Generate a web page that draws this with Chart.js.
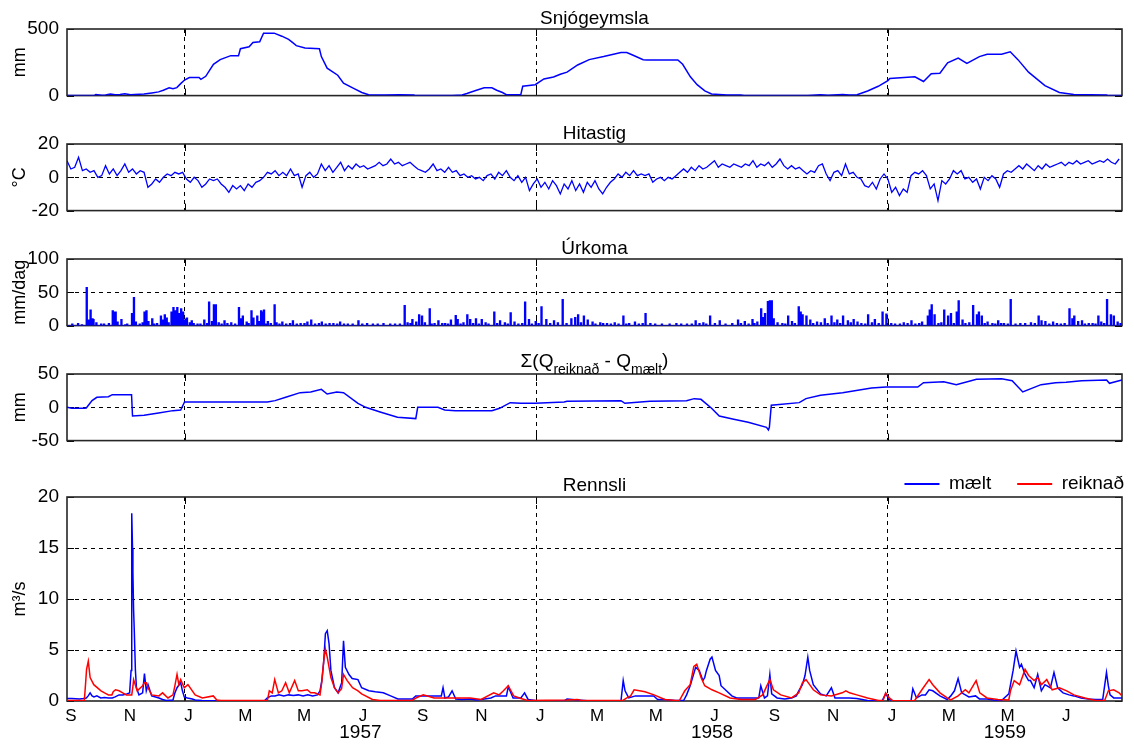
<!DOCTYPE html>
<html><head><meta charset="utf-8">
<script src="https://cdn.jsdelivr.net/npm/chart.js@4/dist/chart.umd.min.js"></script>
<style>
html,body{margin:0;padding:0;background:#fff;}
#wrap{position:relative;width:1134px;height:746px;overflow:hidden;background:#fff;}
canvas{position:absolute;left:0;}
</style></head><body>
<div id="wrap">
<canvas id="c1" width="1134" height="115" style="top:0px"></canvas>
<canvas id="c2" width="1134" height="115" style="top:115px"></canvas>
<canvas id="c3" width="1134" height="115" style="top:230px"></canvas>
<canvas id="c4" width="1134" height="115" style="top:345px"></canvas>
<canvas id="c5" width="1134" height="286" style="top:460px"></canvas>
</div>
<script>
// ---------- DATA (day = days since 1 Sep 1956) ----------
const monthLetters = ['J','F','M','A','M','J','J','A','S','O','N','D'];
const yearLabels = ['1957','1958','1959'];

// Snjógeymsla (mm): [day, value]
const snow = [[0,0],[28,0],[30,8],[36,3],[40,5],[45,12],[50,6],[55,8],[60,14],[66,6],[70,8],[75,10],[80,12],[88,20],[95,28],[100,40],[106,58],[110,52],[114,60],[118,90],[122,117],[127,136],[137,136],[139,122],[144,145],[152,235],[159,270],[170,300],[178,300],[180,352],[189,366],[193,399],[200,404],[204,469],[215,469],[223,446],[230,422],[234,399],[238,375],[247,357],[262,352],[264,293],[270,206],[281,153],[287,94],[298,52],[306,23],[313,7],[330,5],[345,6],[360,4],[362,0],[400,0],[410,5],[415,16],[425,40],[433,58],[441,58],[446,40],[452,23],[456,7],[471,7],[473,70],[486,82],[495,125],[505,140],[512,160],[519,176],[530,230],[542,270],[557,293],[575,324],[581,324],[587,305],[598,270],[602,268],[634,268],[639,235],[647,141],[654,82],[662,35],[669,12],[685,5],[699,4],[703,0],[769,0],[782,6],[790,3],[805,8],[812,4],[820,6],[831,35],[842,70],[852,113],[854,129],[880,141],[889,106],[897,164],[906,168],[914,246],[925,282],[934,242],[947,293],[955,310],[970,310],[979,329],[987,270],[998,176],[1015,75],[1030,23],[1045,8],[1079,4],[1081,0],[1095,0]];

// Hitastig (°C): one value every TEMP_STEP days from day 0
const TEMP_STEP = 4;
const temp = [
 10,5,6,12,4,5,3,4,0,1,
 7,2,5,1,4,8,3,5,2,4,
 3,-6,-4,-1,-3,0,2,1,3,2,
 3,-1,-3,0,-2,-6,-4,-1,-2,-1,
 -4,-6,-9,-5,-7,-5,-8,-4,-6,-3,
 -2,0,3,2,4,1,3,1,5,1,
 2,-6,1,3,0,2,8,4,7,3,
 6,9,4,7,5,8,6,7,5,6,
 7,9,7,8,11,8,9,7,8,9,
 7,5,4,3,5,8,4,5,3,6,
 3,4,1,2,0,1,-1,0,-2,1,
 2,-1,3,1,4,0,-2,1,-3,0,
 -8,-4,-1,-6,-3,-7,-2,-5,-10,-4,
 -7,-2,-8,-4,-9,-3,-6,-2,-7,-10,
 -6,-3,-1,2,0,3,1,4,1,2,
 1,2,-3,-1,0,-2,0,-1,1,3,
 5,3,6,4,7,5,6,8,10,6,
 8,7,6,8,7,6,8,7,10,6,
 8,7,9,6,8,11,7,5,7,5,
 6,4,2,4,3,7,8,2,-2,3,
 4,1,8,2,3,0,-1,-5,-6,-3,
 -7,-1,2,-1,-9,-6,-11,-7,-9,1,
 3,2,4,1,-7,-4,-14,-2,-4,-1,
 4,2,4,-1,0,-3,-1,-7,0,-2,
 1,-1,-6,2,4,3,5,7,5,8,
 6,4,7,5,8,6,7,8,9,7,
 9,8,10,8,9,10,8,9,10,9,
 11,9,8,11];

// Úrkoma (mm/dag): rain days [day, value]
const rainMajor = [[5,2],[11,3],[20,57],[22,8],[24,23],[26,10],[27,9],[30,4],[35,2],[43,3],[47,22],[48,20],[50,20],[52,5],[56,9],[62,2],[67,18],[69,42],[71,5],[78,4],[80,20],[82,22],[84,6],[88,10],[93,3],[97,14],[99,8],[101,16],[103,11],[105,4],[108,20],[110,27],[112,22],[114,27],[116,18],[118,25],[120,20],[122,8],[124,11],[127,4],[129,7],[135,2],[142,8],[147,35],[150,6],[152,31],[154,31],[157,4],[163,7],[170,4],[178,27],[180,10],[182,14],[186,5],[191,22],[193,11],[197,14],[199,6],[201,22],[202,20],[204,23],[208,6],[215,31],[217,4],[223,5],[231,3],[234,7],[242,3],[249,5],[253,8],[261,3],[264,5],[276,3],[283,5],[291,2],[302,7],[306,2],[317,2],[328,3],[340,2],[350,30],[353,4],[358,9],[362,5],[365,16],[368,14],[371,4],[376,25],[381,3],[385,7],[392,3],[398,8],[403,15],[405,9],[411,4],[415,16],[418,9],[424,10],[430,9],[434,4],[443,20],[449,7],[454,4],[460,19],[464,5],[475,35],[479,9],[486,6],[492,28],[497,9],[505,7],[514,39],[523,10],[527,12],[530,16],[536,14],[540,8],[545,5],[553,4],[560,3],[568,4],[577,14],[583,3],[589,5],[600,18],[605,3],[617,2],[632,3],[643,2],[652,7],[660,4],[667,14],[677,7],[696,8],[703,6],[711,9],[716,5],[720,25],[722,12],[724,18],[727,36],[729,37],[731,37],[733,10],[737,4],[748,14],[752,6],[759,28],[761,20],[763,16],[767,14],[771,8],[778,5],[786,10],[793,14],[799,8],[805,14],[810,7],[816,9],[820,5],[831,16],[838,9],[846,20],[850,17],[855,3],[868,4],[876,7],[887,5],[893,14],[895,23],[897,31],[900,16],[910,23],[914,14],[917,18],[923,20],[925,37],[929,8],[940,30],[944,16],[946,20],[949,14],[955,5],[966,7],[972,3],[979,39],[989,3],[1000,4],[1008,14],[1011,7],[1015,6],[1023,5],[1040,25],[1043,10],[1045,14],[1049,6],[1053,7],[1060,3],[1070,14],[1073,5],[1079,39],[1083,16],[1086,14],[1090,5]];
const rainMinor = [[15,1],[38,2],[60,1],[75,2],[90,2],[131,3],[138,2],[145,3],[160,2],[166,3],[174,2],[188,3],[206,2],[211,3],[220,2],[227,2],[238,2],[246,3],[257,2],[268,2],[272,3],[280,2],[287,2],[296,2],[311,3],[322,2],[335,2],[345,2],[356,3],[378,2],[389,3],[395,2],[408,2],[421,3],[427,2],[437,2],[446,3],[457,2],[468,2],[472,3],[482,2],[489,3],[501,3],[509,4],[518,3],[533,4],[548,2],[556,3],[564,2],[572,2],[580,2],[593,2],[597,3],[610,2],[625,2],[637,2],[648,2],[656,3],[663,2],[672,3],[683,2],[690,3],[699,3],[707,2],[713,3],[742,3],[745,2],[755,3],[774,3],[782,4],[789,3],[796,4],[802,3],[813,4],[824,3],[828,2],[835,4],[842,3],[859,2],[864,2],[872,3],[880,2],[884,3],[904,3],[907,4],[920,3],[932,3],[936,4],[952,3],[960,3],[963,2],[969,3],[976,2],[984,2],[994,3],[1004,3],[1019,2],[1027,3],[1031,2],[1035,3],[1056,2],[1064,3],[1067,2],[1076,3],[1093,3]];

// Σ(Q_reiknað − Q_mælt) (mm): [day, value]
const cumDiff = [[0,0],[5,-1.5],[18,-1.5],[20,-1],[26,10],[31,15],[43,16],[47,19],[67,19],[68,-13],[80,-12],[95,-8.5],[110,-5],[118,-4],[122,8],[208,8],[216,10],[227,15],[242,22],[253,23],[264,27],[270,20],[280,23],[287,22],[302,6],[310,0],[325,-7],[343,-15],[362,-17],[364,0],[385,0],[392,-4],[403,-5],[441,-5],[449,-1.5],[460,7],[471,6],[486,6],[516,8],[519,9],[575,10],[579,6],[605,9],[643,10],[651,13],[658,12],[669,-1.5],[677,-13],[692,-18],[707,-22.5],[726,-30],[728,-34],[729,-30],[731,3],[760,7],[767,13],[782,18],[805,22],[835,29],[850,30.5],[883,30.5],[889,37],[910,38.5],[923,34],[944,42],[970,43],[981,40],[992,23],[1011,34],[1026,37],[1037,37.5],[1053,40],[1079,41],[1082,36],[1095,41]];

// Rennsli (m3/s) mælt: [day, value]
const qMeas = [[0,0.25],[5,0.25],[13,0.2],[17,0.25],[20,0.3],[22,0.5],[24,0.8],[26,0.5],[28,0.4],[31,0.5],[35,0.3],[39,0.35],[43,0.3],[47,0.3],[50,0.4],[54,0.6],[58,0.6],[62,0.7],[65,0.8],[66.5,3],[67.2,18.4],[68,15],[68.4,12.6],[69.1,9],[69.9,6.7],[71,3],[72.1,1.3],[74.7,0.6],[78.5,0.8],[80.4,2.7],[82.3,1.0],[84.1,1.6],[87.9,0.5],[92,0.4],[95.4,0.3],[99.2,0.15],[103,0.05],[110,0.1],[112,0.8],[114.2,1.3],[118,1.8],[119.8,1.0],[121.7,0.4],[125,0.3],[130,0.2],[133,0.1],[140,0.05],[205,0.02],[208,0.3],[212,0.5],[216,0.5],[220,0.6],[225,0.5],[230,0.6],[235,0.55],[240,0.6],[245,0.5],[250,0.6],[255,0.5],[260,0.6],[262.6,1.0],[264.5,2.0],[266.4,3.8],[268.2,6.6],[270.1,6.9],[272,5.6],[273.9,3.0],[277.6,1.3],[281.4,0.8],[285.1,1.8],[287,5.9],[288.9,3.3],[292.7,2.6],[296,2.2],[302,2.1],[305.8,1.3],[313.3,1.0],[320,0.9],[328.3,0.8],[335.9,0.5],[343.4,0.2],[350,0.2],[358.4,0.2],[362,0.5],[370,0.5],[380,0.5],[388.5,0.5],[390.3,1.3],[392.2,0.3],[396,0.4],[399.7,1.0],[403.5,0.2],[410,0.15],[418.5,0.2],[425,0.1],[430,0.15],[440,0.3],[444.8,0.5],[450,0.5],[456.1,0.5],[458,1.4],[459.8,1.0],[463,0.3],[471.1,0.3],[474.9,0.8],[478.6,0.15],[486,0.05],[500,0.02],[516,0.02],[519,0.2],[530,0.1],[540,0.02],[575,0.02],[577.3,2.0],[579.2,1.0],[583,0.3],[590,0.5],[595,0.5],[600,0.5],[605,0.5],[609,0.5],[613,0.15],[620,0.15],[631,0.05],[640,0.05],[643.1,0.6],[646.8,1.5],[652.5,3.3],[656.2,3.0],[660,2.0],[661.9,2.3],[663.7,3.0],[667.5,4.1],[669.4,4.3],[673.1,3.0],[676.9,2.5],[678.8,1.5],[684.4,1.0],[690,0.5],[695,0.3],[700,0.3],[710,0.3],[718,0.3],[720.1,1.5],[723.9,0.3],[727,0.5],[729.5,2.6],[731.4,0.7],[737,0.3],[745,0.2],[752,0.3],[757,0.5],[759.5,1.0],[763.3,1.6],[766,2.5],[768.9,4.3],[770.8,3.0],[774.6,1.6],[782.1,0.7],[788,0.5],[793.4,1.3],[797.1,0.3],[804.6,0.3],[812,0.3],[819.7,0.25],[830.9,0.05],[838,0.02],[846,0.02],[849.7,0.7],[853.5,0.15],[857,0.02],[876,0.02],[877.9,1.2],[881.7,0.3],[887.3,0.6],[891,0.6],[894.8,1.1],[898.6,1.0],[906,0.5],[913.6,0.15],[917.3,0.5],[921.1,1.0],[924.9,2.2],[928.6,0.8],[932.4,0.6],[936,0.4],[943,0.5],[947,0.2],[954.9,0.2],[962,0.1],[970,0.05],[977.5,0.7],[982,3.0],[985,4.9],[988.7,3.3],[990.6,3.6],[994.4,2.6],[998,2.0],[1000,2.0],[1003.8,1.3],[1007.5,2.6],[1011.3,1.0],[1015,1.6],[1020.7,1.3],[1024.4,2.8],[1028.2,1.3],[1033.8,0.8],[1040,0.6],[1045.1,0.5],[1052.6,0.3],[1060,0.2],[1067.6,0.15],[1075,0.15],[1078.9,2.8],[1080.8,1.5],[1082.6,0.6],[1086.4,0.3],[1092,0.3],[1095,0.3]];

// Rennsli (m3/s) reiknað: [day, value]
const qCalc = [[0,0.05],[18,0.05],[19.5,2],[20.3,3.1],[22.1,3.9],[24,2.3],[27.8,1.6],[35.3,1.0],[39,0.8],[43,0.6],[46.6,0.6],[48,0.9],[50.3,1.1],[54.1,1.0],[57.8,0.8],[61.6,0.6],[65.4,0.6],[67.2,0.6],[68.5,1.5],[69.1,2.1],[72.9,1.0],[78.5,1.5],[80.4,1.8],[82.3,1.8],[84.1,1.3],[87.9,0.6],[95.4,0.5],[99.2,0.8],[104.8,0.3],[110,0.6],[112,1.5],[114.2,2.6],[116.1,1.6],[118,2.1],[121.7,1.3],[125.5,1.6],[133,0.6],[140.5,0.3],[151.8,0.5],[155.5,0.1],[160,0.05],[208,0.05],[210,1.0],[213,0.8],[215.6,2.1],[219.4,0.8],[223,1.0],[226.9,1.8],[230.7,0.8],[236.3,2.0],[240.1,1.0],[243.8,1.0],[249.4,1.1],[253,0.8],[257,0.8],[262.6,0.6],[264.5,1.9],[266.4,3.9],[268.2,5.1],[270.1,4.3],[273.9,2.3],[277.6,1.3],[281.4,0.8],[285,1.2],[287,2.6],[290.8,2.0],[296.4,1.3],[302,1.0],[305.8,0.7],[317.1,0.15],[325,0.05],[358.4,0.05],[362.2,0.3],[369.7,0.6],[381,0.3],[399.7,0.3],[418.5,0.3],[429.8,0.15],[442.9,0.8],[448.6,0.6],[453,1.0],[458,1.5],[463.6,0.5],[471.1,0.25],[478,0.05],[519,0.1],[530,0.15],[534,0.05],[577,0.05],[581.1,0.3],[585,0.5],[588.6,1.1],[594.2,1.0],[599.9,0.9],[609.3,0.6],[620.5,0.15],[631.8,0.05],[635.6,0.05],[641.2,1.0],[646.8,1.6],[650.6,3.4],[653.6,3.6],[658.1,2.3],[661.9,1.5],[669.4,1.1],[676.9,0.8],[688.2,0.3],[699.4,0.15],[714.5,0.15],[722,0.6],[729.5,2.1],[733.2,1.1],[740.8,0.6],[752,0.3],[759.5,0.8],[763.3,1.8],[767,2.1],[770.8,1.6],[774.6,1.1],[782.1,0.6],[793.4,0.5],[804.6,0.8],[808.4,1.0],[812.2,0.8],[819.7,0.6],[830.9,0.3],[842.2,0.05],[847,0.05],[849.7,0.8],[853.5,0.3],[857.2,0.02],[876,0.02],[879.8,0.05],[887.3,1.1],[894.8,2.1],[898.6,1.6],[906.1,0.8],[913.6,0.3],[917.3,0.1],[924.9,0.5],[932.4,1.1],[936.1,0.8],[943.6,2.0],[947.4,0.8],[954.9,0.3],[966.2,0.15],[977.5,0.1],[979.3,1.0],[983.1,2.0],[988.7,1.6],[994.4,3.1],[998.1,2.5],[1003.8,2.0],[1007.5,2.3],[1011.3,1.6],[1016.9,2.1],[1022.5,1.1],[1030,1.3],[1037.6,1.0],[1045.1,0.6],[1056.4,0.3],[1067.6,0.05],[1077,0.05],[1080.8,1.0],[1086.4,1.1],[1092,0.8],[1095,0.5]];

// ---------- CALENDAR ----------
const DAYMS = 86400000;
const START = Date.UTC(1956, 8, 1);
const END = Date.UTC(1959, 8, 1);
const TOTAL_DAYS = (END - START) / DAYMS;
const monthTicks = [];
for (let y = 1956, m = 8; ; ) {
  const t = Date.UTC(y, m, 1);
  if (t >= END) break;
  monthTicks.push({ day: (t - START) / DAYMS, label: monthLetters[m], jan: m === 0 });
  m += 2; if (m >= 12) { m -= 12; y++; }
}
const janSet = new Set(monthTicks.filter(t => t.jan).map(t => t.day));
const monthLabel = new Map(monthTicks.map(t => [t.day, t.label]));
const yearTicks = yearLabels.map(s => {
  const y = +s;
  const a = Math.max(Date.UTC(y, 0, 1), START), b = Math.min(Date.UTC(y + 1, 0, 1), END);
  return { day: ((a + b) / 2 - START) / DAYMS, label: s };
});
const yearLabel = new Map(yearTicks.map(t => [t.day, t.label]));

// ---------- HELPERS ----------
const FONT = "'Liberation Sans', Arial, Helvetica, sans-serif";
Chart.defaults.font.family = FONT;
Chart.defaults.color = '#000';
const BLUE = '#0000ff', RED = '#ff0000';
const LEFT_W = 67;

const toXY = arr => arr.map(p => ({ x: p[0], y: p[1] }));
const tempXY = temp.map((v, i) => ({ x: i * TEMP_STEP, y: v }));
function rainXY() {
  const ev = rainMajor.concat(rainMinor).slice().sort((a, b) => a[0] - b[0]);
  const pts = [{ x: 0, y: 0 }];
  ev.forEach(e => { pts.push({ x: e[0], y: e[1] }); pts.push({ x: e[0] + 1, y: 0 }); });
  pts.push({ x: TOTAL_DAYS, y: 0 });
  return pts;
}

const frameTicks = {
  id: 'frameTicks',
  beforeDatasetsDraw(chart) {
    const { ctx, chartArea: a, scales } = chart;
    const L = 7;
    ctx.save();
    ctx.setLineDash([]);
    ctx.strokeStyle = '#000';
    ctx.lineWidth = 1;
    const seg = (x1, y1, x2, y2) => { ctx.beginPath(); ctx.moveTo(x1, y1); ctx.lineTo(x2, y2); ctx.stroke(); };
    scales.y.ticks.forEach(t => {
      const py = Math.round(scales.y.getPixelForValue(t.value)) + 0.5;
      seg(a.left, py, a.left + L, py); seg(a.right - L, py, a.right, py);
    });
    scales.x.ticks.forEach(t => {
      if (!janSet.has(t.value)) return;
      const px = Math.round(scales.x.getPixelForValue(t.value)) + 0.5;
      seg(px, a.bottom, px, a.bottom - L); seg(px, a.top, px, a.top + L);
    });
    ctx.strokeStyle = '#262626';
    ctx.lineWidth = 1.6;
    ctx.strokeRect(a.left, a.top, a.right - a.left, a.bottom - a.top);
    ctx.restore();
  }
};

const panelTitle = {
  id: 'panelTitle',
  afterDraw(chart, args, opts) {
    if (!opts || !opts.segments) return;
    const { ctx, chartArea: a } = chart;
    ctx.save();
    ctx.fillStyle = '#000';
    ctx.textAlign = 'left';
    ctx.textBaseline = 'alphabetic';
    let total = 0;
    const w = opts.segments.map(s => { ctx.font = s.size + 'px ' + FONT; const m = ctx.measureText(s.text).width; total += m; return m; });
    let x = (a.left + a.right) / 2 - total / 2;
    opts.segments.forEach((s, i) => {
      ctx.font = s.size + 'px ' + FONT;
      ctx.fillText(s.text, x, a.top + opts.baseline + (s.dy || 0));
      x += w[i];
    });
    ctx.restore();
  }
};

function xAxis(showLabels) {
  return {
    type: 'linear', position: 'bottom', min: 0, max: TOTAL_DAYS, weight: 0,
    afterBuildTicks: s => { s.ticks = monthTicks.map(t => ({ value: t.day })); },
    afterFit: s => { s.height = showLabels ? 20 : 0; },
    ticks: { display: showLabels, autoSkip: false, maxRotation: 0, minRotation: 0, padding: 5, labelOffset: 4,
             font: { size: 17 }, color: '#000', callback: v => monthLabel.get(v) || '' },
    grid: { display: true, drawTicks: false, lineWidth: 1,
            color: c => (c.tick && janSet.has(c.tick.value)) ? '#000' : 'rgba(0,0,0,0)' },
    border: { display: false, dash: [4, 4] }
  };
}
function yearAxis() {
  return {
    type: 'linear', position: 'bottom', min: 0, max: TOTAL_DAYS, weight: 1,
    afterBuildTicks: s => { s.ticks = yearTicks.map(t => ({ value: t.day })); },
    afterFit: s => { s.height = 25; },
    ticks: { autoSkip: false, maxRotation: 0, minRotation: 0, padding: 0, font: { size: 19 }, color: '#000',
             callback: v => yearLabel.get(v) || '' },
    grid: { display: false, drawTicks: false },
    border: { display: false }
  };
}
function yAxis(min, max, step, title) {
  return {
    type: 'linear', position: 'left', min, max,
    afterBuildTicks: s => { const t = []; for (let v = min; v <= max + 1e-9; v += step) t.push({ value: v }); s.ticks = t; },
    afterFit: s => { s.width = LEFT_W; },
    ticks: { padding: 8, font: { size: 19 }, color: '#000', callback: v => String(v) },
    grid: { drawTicks: false, lineWidth: 1,
            color: c => (c.tick && c.tick.value > min && c.tick.value < max) ? '#000' : 'rgba(0,0,0,0)' },
    border: { display: false, dash: [4, 4] },
    title: { display: true, text: title, font: { size: 18 }, color: '#000', padding: { top: 9, bottom: 0 } }
  };
}
function rightAxis(w) {
  return {
    type: 'linear', position: 'right', display: true,
    afterFit: s => { s.width = w; },
    ticks: { display: false }, grid: { display: false, drawTicks: false }, border: { display: false }
  };
}

function makeChart(id, o) {
  const scales = { x: xAxis(!!o.xLabels), y: yAxis(o.yMin, o.yMax, o.yStep, o.yTitle), yr: rightAxis(o.rightW || 12) };
  if (o.xLabels) scales.x2 = yearAxis();
  return new Chart(document.getElementById(id), {
    type: 'line',
    data: { datasets: o.datasets },
    options: {
      responsive: false, animation: false, devicePixelRatio: 1, events: [],
      layout: { padding: o.padding },
      elements: { point: { radius: 0, hoverRadius: 0 }, line: { tension: 0 } },
      plugins: { legend: o.legend || { display: false }, title: { display: false }, tooltip: { enabled: false },
                 panelTitle: o.title },
      scales
    },
    plugins: [frameTicks, panelTitle]
  });
}
const ds = (label, data, color, extra) => Object.assign({ label, data, borderColor: color, backgroundColor: color,
  borderWidth: 1.5, pointRadius: 0, fill: false, xAxisID: 'x', yAxisID: 'y' }, extra || {});

// ---------- PANELS ----------
makeChart('c1', {
  padding: { top: 29, bottom: 15, left: 0, right: 0 },
  yMin: 0, yMax: 500, yStep: 500, yTitle: 'mm',
  title: { segments: [{ text: 'Snjógeymsla', size: 19 }], baseline: -5 },
  datasets: [ds('Snjógeymsla', toXY(snow), BLUE)]
});
makeChart('c2', {
  padding: { top: 29, bottom: 15, left: 0, right: 0 },
  yMin: -20, yMax: 20, yStep: 20, yTitle: '°C',
  title: { segments: [{ text: 'Hitastig', size: 19 }], baseline: -5 },
  datasets: [ds('Hitastig', tempXY, BLUE, { borderWidth: 1.3 })]
});
makeChart('c3', {
  padding: { top: 29, bottom: 15, left: 0, right: 0 },
  yMin: 0, yMax: 100, yStep: 50, yTitle: 'mm/dag',
  title: { segments: [{ text: 'Úrkoma', size: 19 }], baseline: -5.5 },
  datasets: [ds('Úrkoma', rainXY(), BLUE, { stepped: true, borderWidth: 1.4 })]
});
makeChart('c4', {
  padding: { top: 29, bottom: 15, left: 0, right: 0 },
  yMin: -50, yMax: 50, yStep: 50, yTitle: 'mm',
  title: { segments: [
    { text: 'Σ(Q', size: 19, dy: -7 }, { text: 'reiknað', size: 14, dy: 0 },
    { text: ' - Q', size: 19, dy: -7 }, { text: 'mælt', size: 14, dy: 0 }, { text: ')', size: 19, dy: -8 }], baseline: -0.5 },
  datasets: [ds('Σ', toXY(cumDiff), BLUE)]
});
makeChart('c5', {
  padding: { top: -11.5, bottom: 0, left: 0, right: -16 },
  rightW: 28, xLabels: true,
  yMin: 0, yMax: 20, yStep: 5, yTitle: 'm³/s',
  title: { segments: [{ text: 'Rennsli', size: 19 }], baseline: -6 },
  legend: { display: true, position: 'top', align: 'end', maxHeight: 48.5,
    labels: { boxWidth: 35, boxHeight: 2, padding: 26, font: { size: 19 }, color: '#000',
      sort: (a, b) => a.datasetIndex - b.datasetIndex,
      generateLabels: chart => Chart.defaults.plugins.legend.labels.generateLabels(chart)
        .map(l => Object.assign({}, l, { fillStyle: l.strokeStyle, lineWidth: 0 })) } },
  datasets: [
    ds('mælt', toXY(qMeas), BLUE, { order: 1 }),
    ds('reiknað', toXY(qCalc), RED, { order: 0 })
  ]
});
</script>
</body></html>
